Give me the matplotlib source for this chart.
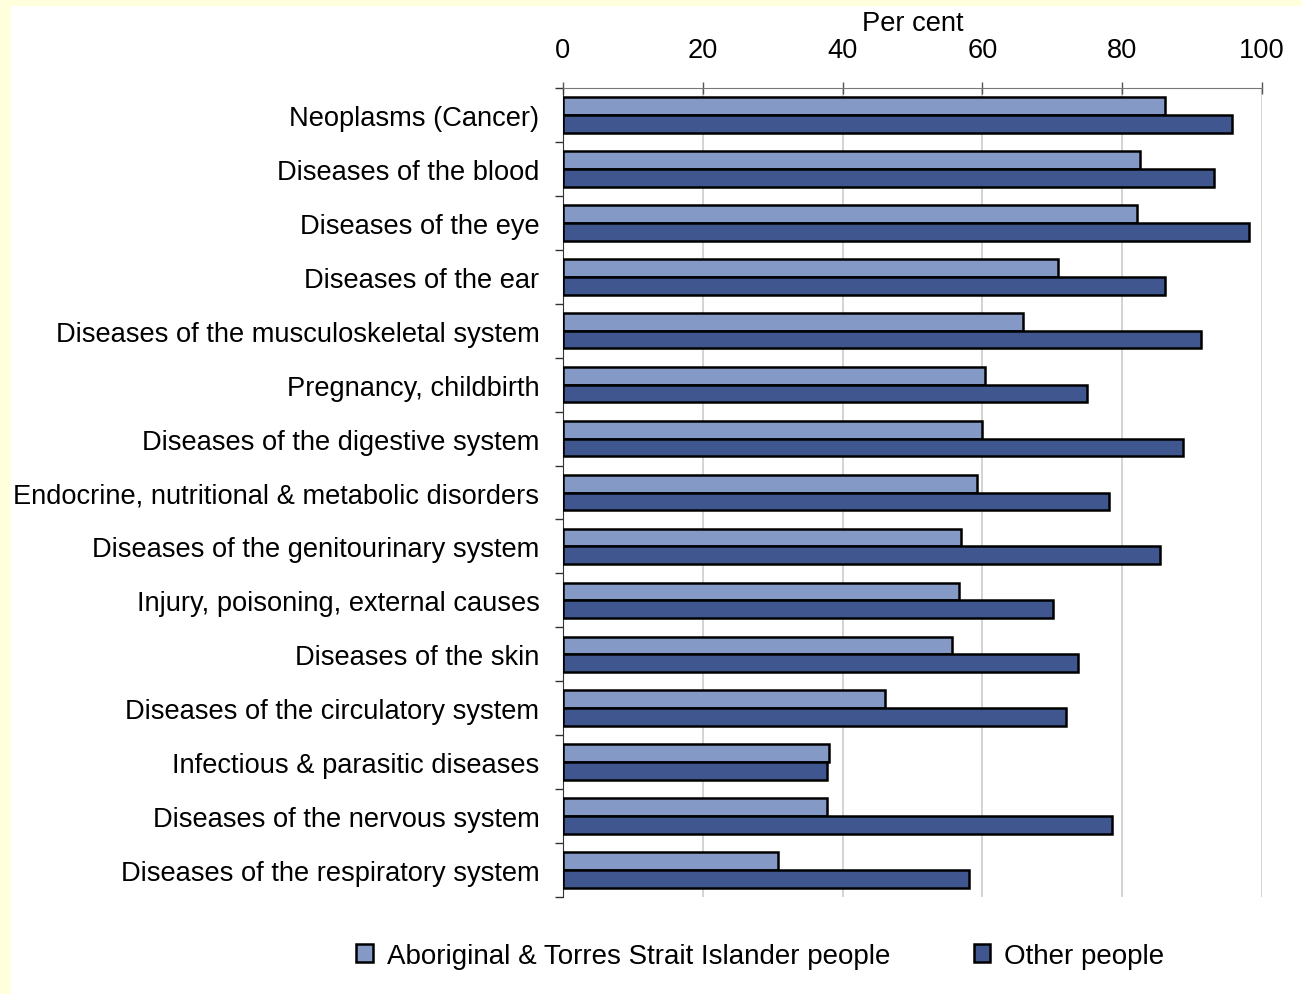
import numpy as np
import matplotlib
matplotlib.use("Agg")
import matplotlib.pyplot as plt

plt.rcParams['font.family'] = ['Liberation Sans', 'DejaVu Sans']

categories = [
    "Neoplasms (Cancer)",
    "Diseases of the blood",
    "Diseases of the eye",
    "Diseases of the ear",
    "Diseases of the musculoskeletal system",
    "Pregnancy, childbirth",
    "Diseases of the digestive system",
    "Endocrine, nutritional & metabolic disorders",
    "Diseases of the genitourinary system",
    "Injury, poisoning, external causes",
    "Diseases of the skin",
    "Diseases of the circulatory system",
    "Infectious & parasitic diseases",
    "Diseases of the nervous system",
    "Diseases of the respiratory system",
]
indigenous = [86.1, 82.5, 82.1, 70.8, 65.8, 60.4, 59.9, 59.2, 56.9, 56.7, 55.7, 46.1, 38.1, 37.8, 30.8]
other = [95.7, 93.1, 98.1, 86.1, 91.3, 75.0, 88.7, 78.1, 85.4, 70.1, 73.7, 72.0, 37.8, 78.5, 58.1]
series_names = ["Aboriginal & Torres Strait Islander people", "Other people"]
xticks = [0, 20, 40, 60, 80, 100]

light = "#8599C7"
dark = "#3F578E"
fs = 19.6

fig = plt.figure(figsize=(13.02, 9.95), dpi=100)
fig.patch.set_facecolor("#FFFFDD")
# white panel inside the yellow frame
bg = fig.add_axes([11 / 1302, 0, 1, 1 - 7 / 995], zorder=-10)
bg.set_facecolor("white")
bg.set_xticks([])
bg.set_yticks([])
for s in bg.spines.values():
    s.set_visible(False)

ax = fig.add_axes([563 / 1302, 1 - 898 / 995, 699 / 1302, 809 / 995])
ax.set_facecolor("white")

y = np.arange(len(categories))
h = 0.33
ax.barh(y - h / 2, indigenous, height=h, color=light, edgecolor="black", linewidth=1.8,
        label=series_names[0], zorder=3)
ax.barh(y + h / 2, other, height=h, color=dark, edgecolor="black", linewidth=1.8,
        label=series_names[1], zorder=3)

ax.set_xlim(0, 100)
ax.set_ylim(len(categories) - 0.5, -0.5)
ax.xaxis.tick_top()
ax.xaxis.set_label_position("top")
ax.set_xticks(xticks)
ax.set_xticklabels([str(t) for t in xticks], fontsize=fs)
ax.set_xlabel("Per cent", fontsize=fs, labelpad=5)
ax.tick_params(axis="x", direction="inout", length=8, width=1, color="#555555", pad=14)

ax.set_yticks(y)
ax.set_yticklabels(categories, fontsize=fs)
ax.set_yticks(np.arange(len(categories) + 1) - 0.5, minor=True)
ax.tick_params(axis="y", which="major", length=0, pad=17)
ax.tick_params(axis="y", which="minor", length=6, width=1, color="#333333")

ax.grid(axis="x", color="#CCCCCC", linewidth=1.2, zorder=0)
ax.set_axisbelow(True)
for s in ["right", "bottom"]:
    ax.spines[s].set_visible(False)
ax.spines["left"].set_color("#333333")
ax.spines["top"].set_color("#777777")

leg = fig.legend(loc="center", bbox_to_anchor=(0.584, 1 - 957 / 995), ncol=2, frameon=False,
                 fontsize=20, handlelength=0.6, handleheight=0.6, columnspacing=3.0,
                 handletextpad=0.5)

fig.savefig("out.png", dpi=100, facecolor=fig.get_facecolor())
